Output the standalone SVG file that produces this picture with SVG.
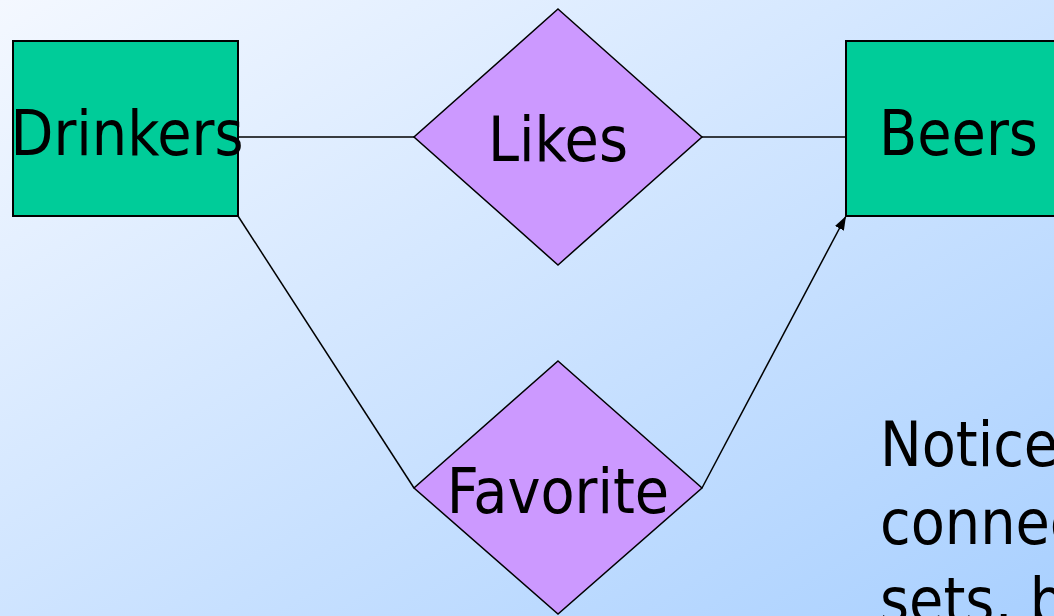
<svg xmlns="http://www.w3.org/2000/svg" width="1054" height="616" viewBox="0 0 1054 616">
<defs>
<linearGradient id="bg" x1="0" y1="0" x2="1" y2="1">
<stop offset="0" stop-color="#f4f8ff"/>
<stop offset="1" stop-color="#a9d0ff"/>
</linearGradient>
<marker id="arr" viewBox="0 0 14 10" refX="14" refY="5" markerWidth="14" markerHeight="10" markerUnits="userSpaceOnUse" orient="auto">
<path d="M0,0 L14,5 L0,10 z" fill="#000"/>
</marker>
<style>
.ent{fill:#00cc99;stroke:#000;stroke-width:2}
.rel{fill:#cc99ff;stroke:#000;stroke-width:1.5}
.lbl{font-family:"DejaVu Sans Condensed","DejaVu Sans",sans-serif;font-size:62px;fill:#000}
.ln{stroke:#000;stroke-width:1.5;fill:none}
</style>
</defs>
<rect width="1054" height="616" fill="url(#bg)"/>
<g id="connectors">
<line class="ln" x1="238" y1="137" x2="414" y2="137"/>
<line class="ln" x1="702" y1="137" x2="846" y2="137"/>
<line class="ln" x1="238" y1="216" x2="414" y2="488"/>
<line class="ln" x1="702" y1="488" x2="846" y2="216" marker-end="url(#arr)"/>
</g>
<g id="drinkers">
<rect class="ent" x="13" y="41" width="225" height="175"/>
<text class="lbl" x="127" y="155" text-anchor="middle">Drinkers</text>
</g>
<g id="likes">
<polygon class="rel" points="558,9 702,137 558,265 414,137"/>
<text class="lbl" x="558" y="161" text-anchor="middle">Likes</text>
</g>
<g id="beers">
<rect class="ent" x="846" y="41" width="220" height="175"/>
<text class="lbl" x="879" y="155">Beers</text>
</g>
<g id="favorite">
<polygon class="rel" points="558,361 702,488 558,614 414,488"/>
<text class="lbl" x="558" y="513" text-anchor="middle">Favorite</text>
</g>
<g id="note">
<text class="lbl" x="880" y="466">Notice</text>
<text class="lbl" x="880" y="544">connec</text>
<text class="lbl" x="880" y="622">sets, b</text>
</g>
</svg>
